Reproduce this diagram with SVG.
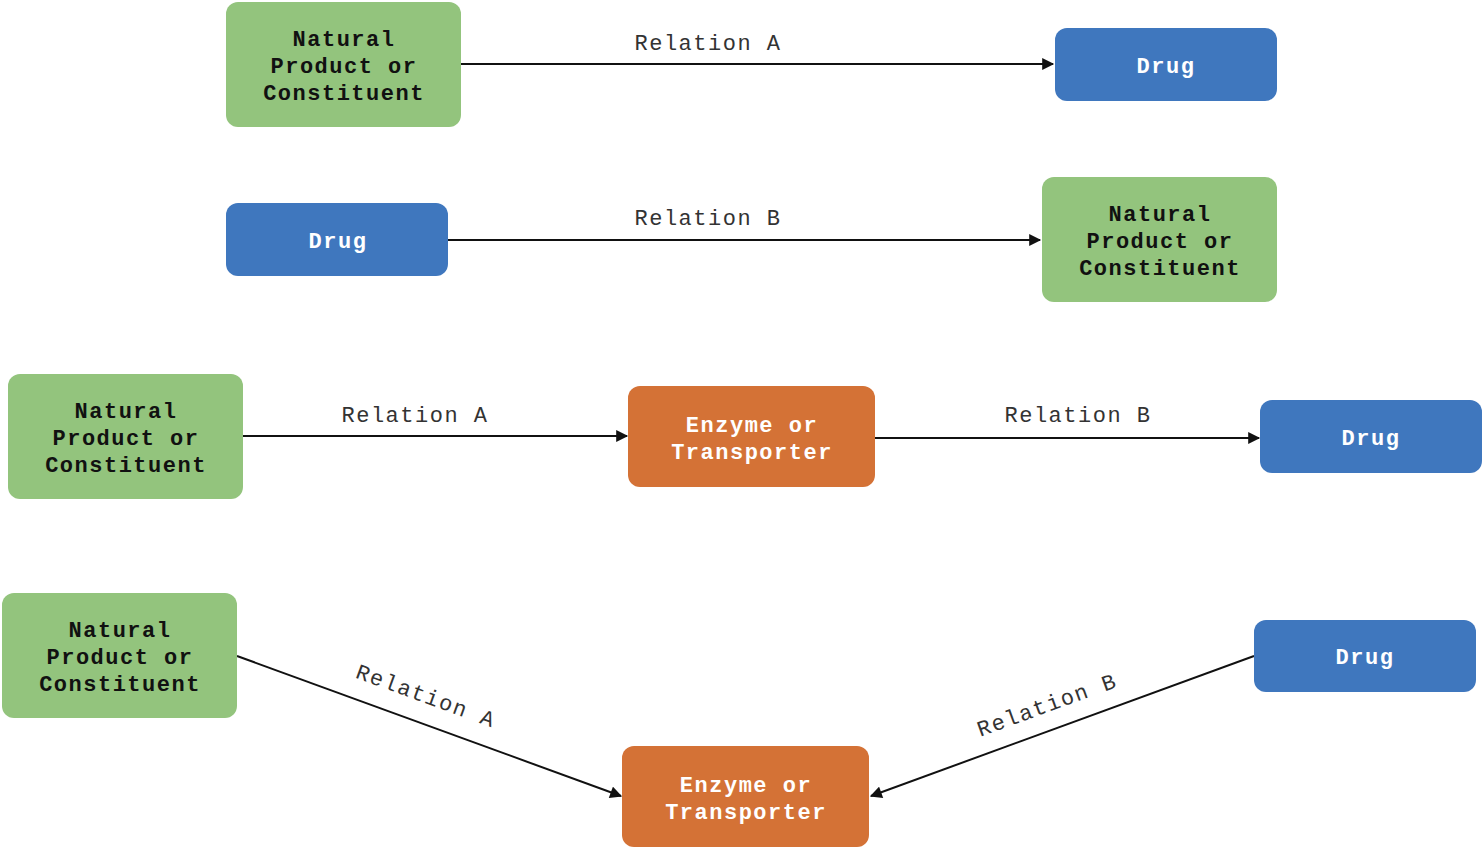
<svg xmlns="http://www.w3.org/2000/svg" width="1484" height="850" viewBox="0 0 1484 850">
<defs>
<marker id="arr" viewBox="0 0 10 10" refX="9" refY="5" markerWidth="13" markerHeight="12" markerUnits="userSpaceOnUse" orient="auto">
<path d="M0,0 L10,5 L0,10 z" fill="#111"/>
</marker>
<style>
.g{fill:#93C47D}
.b{fill:#3F77BE}
.o{fill:#D47236}
.t{font-family:"Courier New","Liberation Mono",monospace;font-size:22px;font-weight:bold;letter-spacing:1.5px;text-anchor:middle;dominant-baseline:central}
.dk{fill:#111}
.wt{fill:#fff}
.lb{font-family:"Courier New","Liberation Mono",monospace;font-size:22px;letter-spacing:1.5px;text-anchor:middle;fill:#333}
.e{stroke:#111;stroke-width:2;fill:none;marker-end:url(#arr)}
</style>
</defs>
<rect width="1484" height="850" fill="#fff"/>
<g id="connectors">
<line class="e" x1="461" y1="64" x2="1053" y2="64"/>
<line class="e" x1="448" y1="240" x2="1040" y2="240"/>
<line class="e" x1="243" y1="436" x2="627" y2="436"/>
<line class="e" x1="875" y1="438" x2="1259" y2="438"/>
<line class="e" x1="237" y1="656" x2="621" y2="796"/>
<line class="e" x1="1254" y1="656" x2="871" y2="796"/>
<text class="lb" x="708" y="50">Relation A</text>
<text class="lb" x="708" y="225">Relation B</text>
<text class="lb" x="415" y="422">Relation A</text>
<text class="lb" x="1078" y="422">Relation B</text>
<text class="lb" transform="translate(426,696) rotate(20)" x="0" y="7">Relation A</text>
<text class="lb" transform="translate(1047,705) rotate(-20)" x="0" y="7">Relation B</text>
</g>
<g id="n1"><rect class="g" x="226" y="2" width="235" height="125" rx="12"/>
<text class="t dk" x="344" y="40">Natural</text><text class="t dk" x="344" y="67">Product or</text><text class="t dk" x="344" y="94">Constituent</text></g>
<g id="n2"><rect class="b" x="1055" y="28" width="222" height="73" rx="12"/>
<text class="t wt" x="1166" y="67">Drug</text></g>
<g id="n3"><rect class="b" x="226" y="203" width="222" height="73" rx="12"/>
<text class="t wt" x="338" y="242">Drug</text></g>
<g id="n4"><rect class="g" x="1042" y="177" width="235" height="125" rx="12"/>
<text class="t dk" x="1160" y="215">Natural</text><text class="t dk" x="1160" y="242">Product or</text><text class="t dk" x="1160" y="269">Constituent</text></g>
<g id="n5"><rect class="g" x="8" y="374" width="235" height="125" rx="12"/>
<text class="t dk" x="126" y="412">Natural</text><text class="t dk" x="126" y="439">Product or</text><text class="t dk" x="126" y="466">Constituent</text></g>
<g id="n6"><rect class="o" x="628" y="386" width="247" height="101" rx="12"/>
<text class="t wt" x="752" y="426">Enzyme or</text><text class="t wt" x="752" y="453">Transporter</text></g>
<g id="n7"><rect class="b" x="1260" y="400" width="222" height="73" rx="12"/>
<text class="t wt" x="1371" y="439">Drug</text></g>
<g id="n8"><rect class="g" x="2" y="593" width="235" height="125" rx="12"/>
<text class="t dk" x="120" y="631">Natural</text><text class="t dk" x="120" y="658">Product or</text><text class="t dk" x="120" y="685">Constituent</text></g>
<g id="n9"><rect class="o" x="622" y="746" width="247" height="101" rx="12"/>
<text class="t wt" x="746" y="786">Enzyme or</text><text class="t wt" x="746" y="813">Transporter</text></g>
<g id="n10"><rect class="b" x="1254" y="620" width="222" height="72" rx="12"/>
<text class="t wt" x="1365" y="658">Drug</text></g>
</svg>
